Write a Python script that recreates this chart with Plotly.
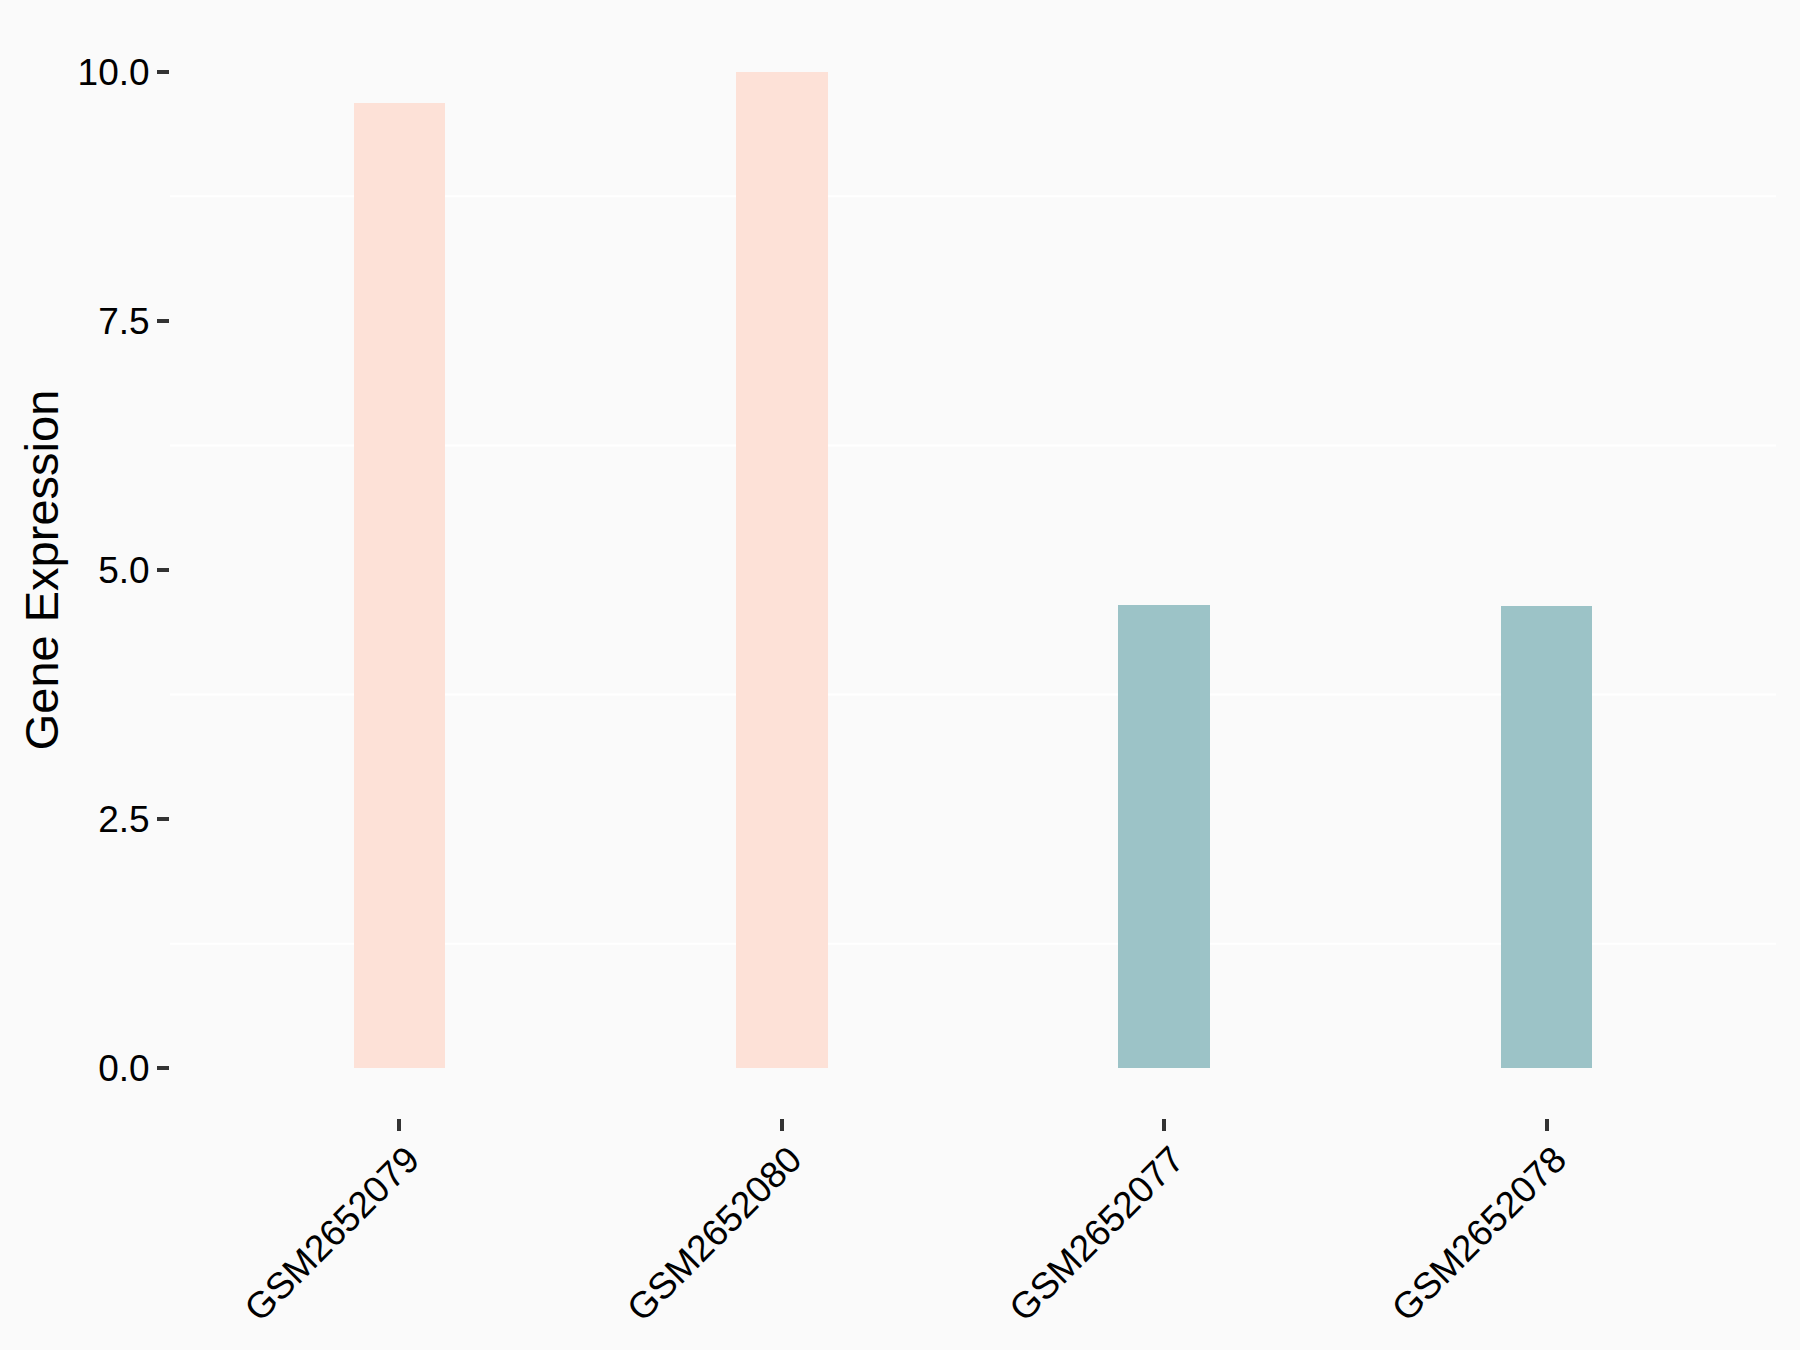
import plotly.graph_objects as go

samples = ["GSM2652079", "GSM2652080", "GSM2652077", "GSM2652078"]
expression = [9.69, 10.0, 4.65, 4.64]
groups = ["A", "A", "B", "B"]
group_colors = {"A": "#FDE1D7", "B": "#9CC3C7"}

y_tickvals = [0, 2.5, 5, 7.5, 10]
y_ticktext = ["0.0", "2.5", "5.0", "7.5", "10.0"]
minor_grid = [1.25, 3.75, 6.25, 8.75]

fig = go.Figure()
fig.add_trace(go.Bar(
    x=samples,
    y=expression,
    width=0.24,
    marker=dict(color=[group_colors[g] for g in groups], line=dict(width=0)),
    showlegend=False,
))

# faint white minor grid lines (ggplot style)
for v in minor_grid:
    fig.add_shape(type="line", xref="paper", yref="y", x0=0, x1=1, y0=v, y1=v,
                  line=dict(color="#FFFFFF", width=2), layer="below")

font_family = "Arial, Liberation Sans, sans-serif"

fig.update_layout(
    width=1800,
    height=1350,
    paper_bgcolor="#FAFAFA",
    plot_bgcolor="#FAFAFA",
    margin=dict(l=170, r=24, t=22, b=232),
    font=dict(family=font_family, color="#000000"),
    bargap=0,
    xaxis=dict(
        type="category",
        range=[-0.6, 3.6],
        showgrid=False,
        zeroline=False,
        showline=False,
        ticks="outside",
        ticklen=12,
        tickwidth=4,
        tickcolor="#333333",
        tickangle=-45,
        ticklabelshift=9,
        ticklabelstandoff=-8,
        tickfont=dict(size=37, color="#000000"),
    ),
    yaxis=dict(
        range=[-0.5, 10.5],
        tickvals=y_tickvals,
        ticktext=y_ticktext,
        showgrid=False,
        zeroline=False,
        showline=False,
        ticks="outside",
        ticklen=12,
        tickwidth=4,
        tickcolor="#333333",
        tickfont=dict(size=37, color="#000000"),
        title=dict(text="Gene Expression", font=dict(size=47, color="#000000"), standoff=4),
    ),
)

# drop the page's default body margin so the figure fills the window
fig.write_html("out.html", config={"displayModeBar": False},
               post_script="document.body.style.margin='0';document.body.style.background='#FAFAFA';")
